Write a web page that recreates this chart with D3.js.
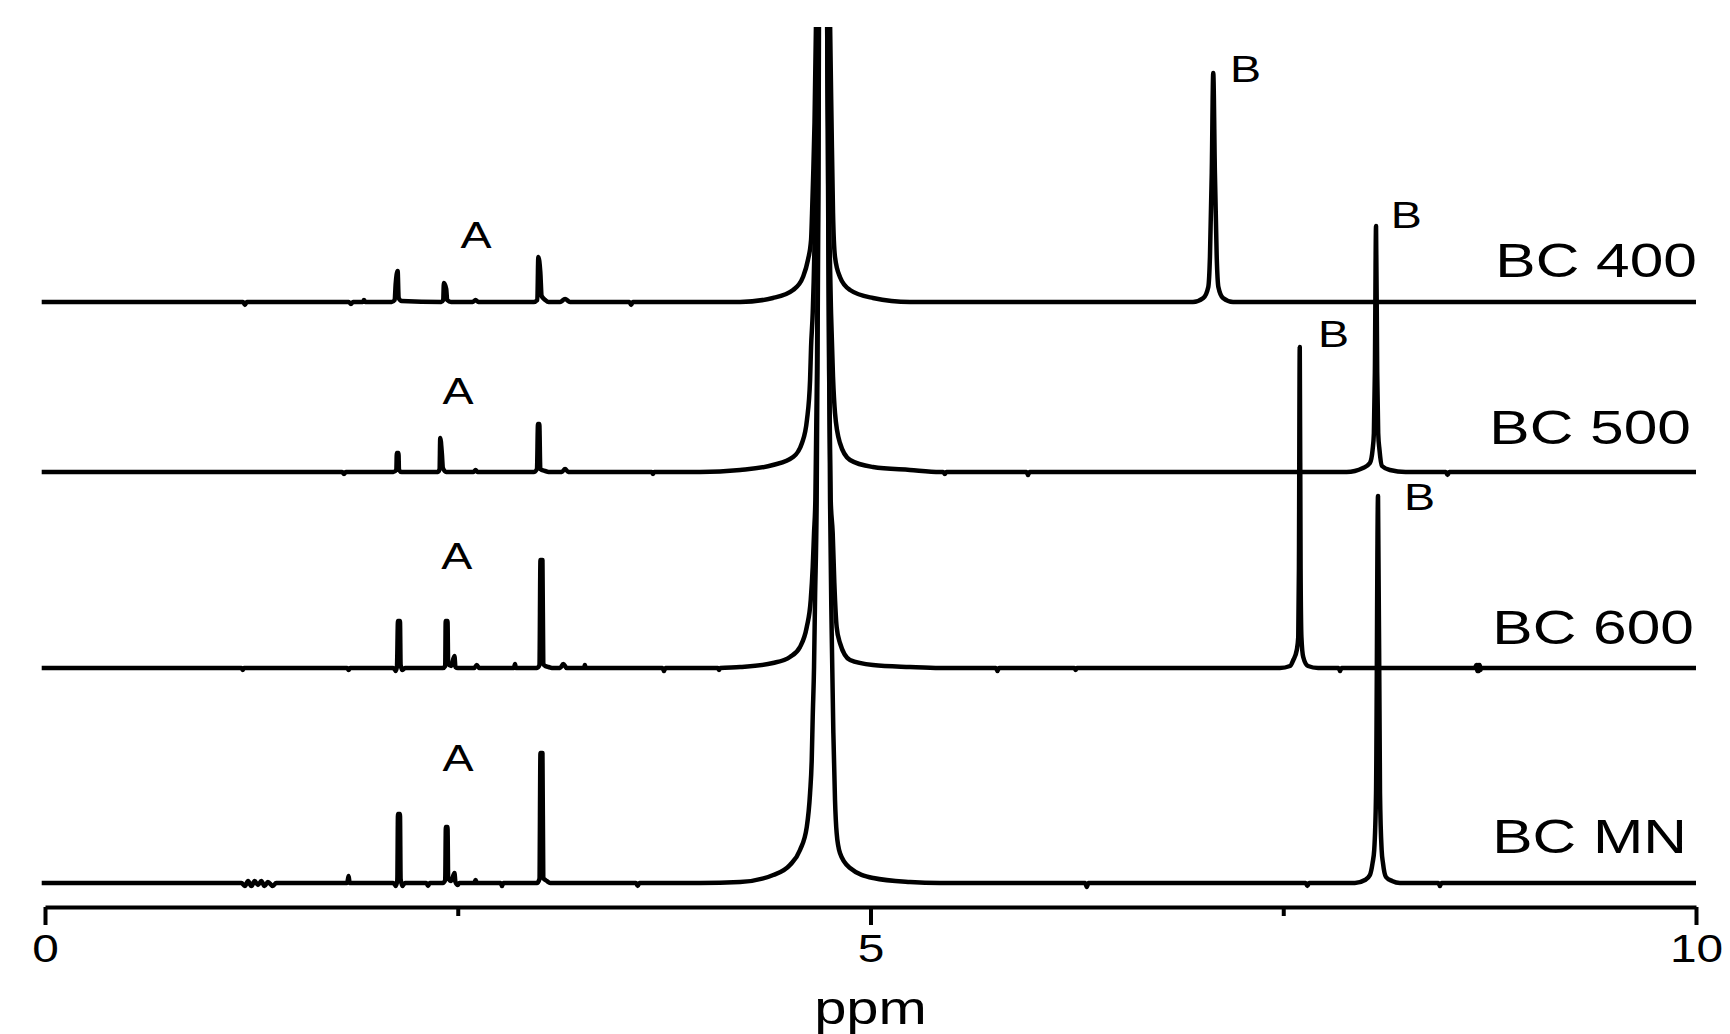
<!DOCTYPE html>
<html lang="en">
<head>
<meta charset="UTF-8">
<title>1H NMR spectra</title>
<style>
    body { margin: 0; background: #fff; }
    text { font-family: "Liberation Sans", Arial, sans-serif; fill: #000; }
    .spec { fill: none; stroke: #000; stroke-width: 4.5; stroke-linejoin: round; }
    .axis path, .axis line { stroke: #000; stroke-width: 4; }
</style>
</head>
<body>
<svg width="1730" height="1034"></svg>
<script src="https://cdn.jsdelivr.net/npm/d3@7/dist/d3.min.js"></script>
<script>

    // chemical shift axis
    var xTicks = [0, 5, 10];
    var xMinorTicks = [2.5, 7.5];

    var names = ["BC 400", "BC 500", "BC 600", "BC MN"];
    // vertical offset of each trace (intensity units)
    var offsets = [605, 435, 239, 24];

    // [ppm, intensity]
    var bc400 = [
        [-0.02, 0], [1.200, 0], [1.211, -3], [1.222, 0], [1.840, 0], [1.853, -2], [1.866, 0],
        [1.925, 0], [1.932, 2], [1.940, 0],
        [2.100, 0], [2.118, 2], [2.124, 18], [2.136, 31], [2.142, 4], [2.160, 1],
        [2.400, 0], [2.412, 2], [2.416, 19], [2.430, 13], [2.436, 2], [2.460, 0],
        [2.590, 0], [2.608, 2], [2.625, 0],
        [2.960, 0], [2.982, 2], [2.988, 45], [3.000, 30], [3.008, 6], [3.030, 2], [3.050, 0],
        [3.120, 0], [3.150, 3], [3.180, 0], [3.540, 0], [3.550, -3], [3.560, 0],
        [4.210, 0], [4.409, 4], [4.531, 12], [4.591, 25], [4.621, 42], [4.640, 62], [4.646, 89],
        [4.652, 122], [4.661, 180], [4.670, 280], [4.682, 480], [4.694, 900], [4.712, 3000],
        [4.730, 900], [4.743, 480], [4.755, 280], [4.764, 180], [4.773, 89], [4.785, 45],
        [4.815, 25], [4.876, 12], [5.015, 4], [5.239, 0],
        [6.953, 0], [7.016, 4], [7.046, 15], [7.056, 45], [7.067, 129], [7.076, 229],
        [7.086, 129], [7.097, 45], [7.107, 15], [7.135, 4], [7.196, 0],
        [10, 0]
    ];

    var bc500 = [
        [-0.02, 0], [1.800, 0], [1.811, -2], [1.822, 0],
        [2.110, 0], [2.128, 2], [2.131, 19], [2.141, 19], [2.144, 2], [2.160, 0],
        [2.380, 0], [2.390, 3], [2.394, 34], [2.404, 18], [2.410, 4], [2.430, 0],
        [2.595, 0], [2.608, 2], [2.620, 0],
        [2.960, 0], [2.980, 3], [2.986, 48], [2.994, 48], [3.000, 3], [3.030, 1], [3.050, 0],
        [3.130, 0], [3.150, 3], [3.170, 0], [3.675, 0], [3.683, -2], [3.690, 0],
        [3.967, 0], [4.210, 2], [4.409, 7], [4.531, 15], [4.585, 29], [4.615, 52], [4.634, 92],
        [4.640, 125], [4.650, 159], [4.661, 230], [4.673, 400], [4.685, 700], [4.706, 3000],
        [4.728, 700], [4.740, 400], [4.752, 230], [4.761, 159], [4.773, 95], [4.785, 59],
        [4.815, 29], [4.876, 12], [5.015, 5], [5.239, 2], [5.421, 0],
        [5.440, 0], [5.450, -2], [5.460, 0], [5.945, 0], [5.954, -3], [5.963, 0],
        [7.884, 0], [7.983, 4], [8.025, 9], [8.041, 22], [8.049, 39], [8.055, 100], [8.062, 246],
        [8.069, 100], [8.075, 39], [8.083, 22], [8.098, 6], [8.146, 2], [8.241, 0],
        [8.485, 0], [8.495, -3], [8.505, 0],
        [10, 0]
    ];

    var bc600 = [
        [-0.02, 0], [1.190, 0], [1.197, -2], [1.205, 0], [1.830, 0], [1.839, -2], [1.848, 0],
        [2.110, 0], [2.125, -3], [2.132, 2], [2.138, 47], [2.150, 47], [2.154, 3], [2.165, -2], [2.180, 0],
        [2.410, 0], [2.424, 2], [2.427, 47], [2.438, 47], [2.442, 4], [2.460, 2], [2.480, 12],
        [2.486, 1], [2.500, 0],
        [2.600, 0], [2.615, 3], [2.630, 0], [2.840, 0], [2.847, 4], [2.852, 0],
        [2.980, 0], [2.995, 3], [3.001, 108], [3.013, 108], [3.018, 4], [3.030, 2], [3.050, 1], [3.070, 0],
        [3.120, 0], [3.139, 4], [3.160, 0], [3.265, 0], [3.270, 3], [3.275, 0],
        [3.740, 0], [3.749, -3], [3.758, 0], [3.967, 0], [4.075, 0], [4.082, -2], [4.090, 0],
        [4.210, 1], [4.409, 5], [4.512, 11], [4.573, 21], [4.614, 41], [4.638, 68], [4.650, 101],
        [4.658, 135], [4.666, 168], [4.676, 300], [4.686, 600], [4.694, 1100], [4.712, 3000],
        [4.730, 1100], [4.739, 600], [4.749, 300], [4.759, 168], [4.771, 135], [4.781, 85],
        [4.795, 41], [4.815, 25], [4.876, 8], [5.015, 3], [5.239, 1], [5.421, 0],
        [5.760, 0], [5.769, -3], [5.778, 0], [6.235, 0], [6.243, -2], [6.250, 0],
        [7.480, 0], [7.541, 2], [7.561, 8], [7.582, 18], [7.591, 31], [7.595, 100], [7.600, 321],
        [7.605, 100], [7.610, 31], [7.621, 11], [7.650, 2], [7.711, 0],
        [7.835, 0], [7.844, -3], [7.853, 0],
        [8.660, 0], [8.670, 3], [8.675, -3], [8.680, 3], [8.685, -3], [8.690, 3], [8.695, -2], [8.700, 0],
        [10, 0]
    ];

    var bcmn = [
        [-0.02, 0], [1.190, 0], [1.210, -3], [1.230, 2], [1.250, -3], [1.270, 2], [1.290, -2],
        [1.310, 2], [1.330, -3], [1.350, 1], [1.380, -3], [1.400, 0],
        [1.830, 0], [1.839, 7], [1.845, 0],
        [2.110, 0], [2.125, -3], [2.134, 3], [2.138, 69], [2.150, 69], [2.154, 4], [2.165, -3], [2.180, 0],
        [2.310, 0], [2.320, -3], [2.330, 0],
        [2.410, 0], [2.424, 3], [2.428, 56], [2.438, 56], [2.442, 5], [2.460, 2], [2.480, 10],
        [2.486, 1], [2.500, -2], [2.510, 0],
        [2.600, 0], [2.608, 3], [2.616, 0], [2.760, 0], [2.768, -3], [2.776, 0],
        [2.980, 0], [2.995, 4], [3.001, 130], [3.013, 130], [3.018, 5], [3.040, 2], [3.060, 0],
        [3.580, 0], [3.590, -3], [3.600, 0],
        [3.967, 0], [4.210, 1], [4.411, 8], [4.512, 18], [4.573, 33], [4.614, 56], [4.634, 90],
        [4.644, 123], [4.650, 166], [4.658, 216], [4.664, 283], [4.674, 383], [4.685, 700],
        [4.697, 1400], [4.714, 3000], [4.730, 1400], [4.744, 700], [4.755, 383], [4.765, 250],
        [4.775, 150], [4.785, 83], [4.795, 50], [4.815, 30], [4.876, 15], [5.017, 5], [5.239, 1],
        [5.421, 0],
        [6.300, 0], [6.310, -4], [6.320, 0], [7.636, 0], [7.646, -3], [7.656, 0],
        [7.934, 0], [7.995, 3], [8.025, 8], [8.041, 20], [8.051, 33], [8.062, 90], [8.074, 387],
        [8.086, 90], [8.096, 33], [8.104, 20], [8.122, 6], [8.159, 2], [8.207, 0],
        [8.440, 0], [8.449, -3], [8.458, 0],
        [10, 0]
    ];

    var series = [bc400, bc500, bc600, bcmn];

    // peak annotations: [trace index, ppm, intensity above trace]
    var labelA = [[0, 2.611, 54], [1, 2.502, 68], [2, 2.494, 99], [3, 2.502, 112]];
    var labelB = [[0, 7.177, 220], [1, 8.151, 244], [2, 7.711, 321], [3, 8.231, 373]];

    var svg = d3.select("svg");
    var stretch = 1.26;

    var x = d3.scaleLinear().domain([0, 10]).range([45, 1696]);
    var y = d3.scaleLinear().domain([0, 880]).range([907, 27]);

    svg.append("clipPath").attr("id", "plotclip")
        .append("rect").attr("x", 0).attr("y", y(880)).attr("width", 1730).attr("height", y(0) - y(880));

    var line = function(off) {
        return d3.line()
            .x(function(d) { return x(d[0]); })
            .y(function(d) { return y(d[1] + off); })
            .curve(d3.curveMonotoneX);
    };

    var g = svg.append("g").attr("clip-path", "url(#plotclip)");
    series.forEach(function(s, i) {
        g.append("path").attr("class", "spec").attr("d", line(offsets[i])(s));
    });

    // trace names, right aligned
    var nameRight = [1697, 1691, 1694, 1687];
    var nameLift = [25, 28, 24, 30];
    names.forEach(function(n, i) {
        svg.append("g")
            .attr("transform", "translate(" + nameRight[i] + "," + y(offsets[i] + nameLift[i]) + ") scale(" + stretch + ",1)")
            .append("text")
            .attr("text-anchor", "end")
            .style("font-size", "48px")
            .text(n);
    });

    labelA.forEach(function(a) {
        svg.append("g")
            .attr("transform", "translate(" + x(a[1]) + "," + y(offsets[a[0]] + a[2]) + ") scale(" + stretch + ",1)")
            .append("text")
            .attr("text-anchor", "middle")
            .style("font-size", "37px")
            .text("A");
    });

    labelB.forEach(function(b) {
        svg.append("g")
            .attr("transform", "translate(" + x(b[1]) + "," + y(offsets[b[0]] + b[2]) + ") scale(" + stretch + ",1)")
            .append("text")
            .attr("text-anchor", "start")
            .style("font-size", "37px")
            .text("B");
    });

    // x axis
    var axisG = svg.append("g").attr("class", "axis")
        .attr("transform", "translate(0," + y(0) + ")");

    axisG.call(d3.axisBottom(x).tickValues(xTicks).tickSize(18).tickSizeOuter(0).tickPadding(10)
        .tickFormat(d3.format("d")));
    axisG.selectAll(".tick text")
        .style("font-size", "38px")
        .attr("transform", "scale(" + stretch + ",1)");

    svg.append("g").attr("class", "axis")
        .attr("transform", "translate(0," + y(0) + ")")
        .call(d3.axisBottom(x).tickValues(xMinorTicks).tickSize(9).tickSizeOuter(0).tickFormat(""))
        .select(".domain").remove();

    svg.append("g")
        .attr("transform", "translate(" + x(5) + ",1024) scale(" + stretch + ",1)")
        .append("text")
        .attr("text-anchor", "middle")
        .style("font-size", "46px")
        .text("ppm");

</script>
</body>
</html>
